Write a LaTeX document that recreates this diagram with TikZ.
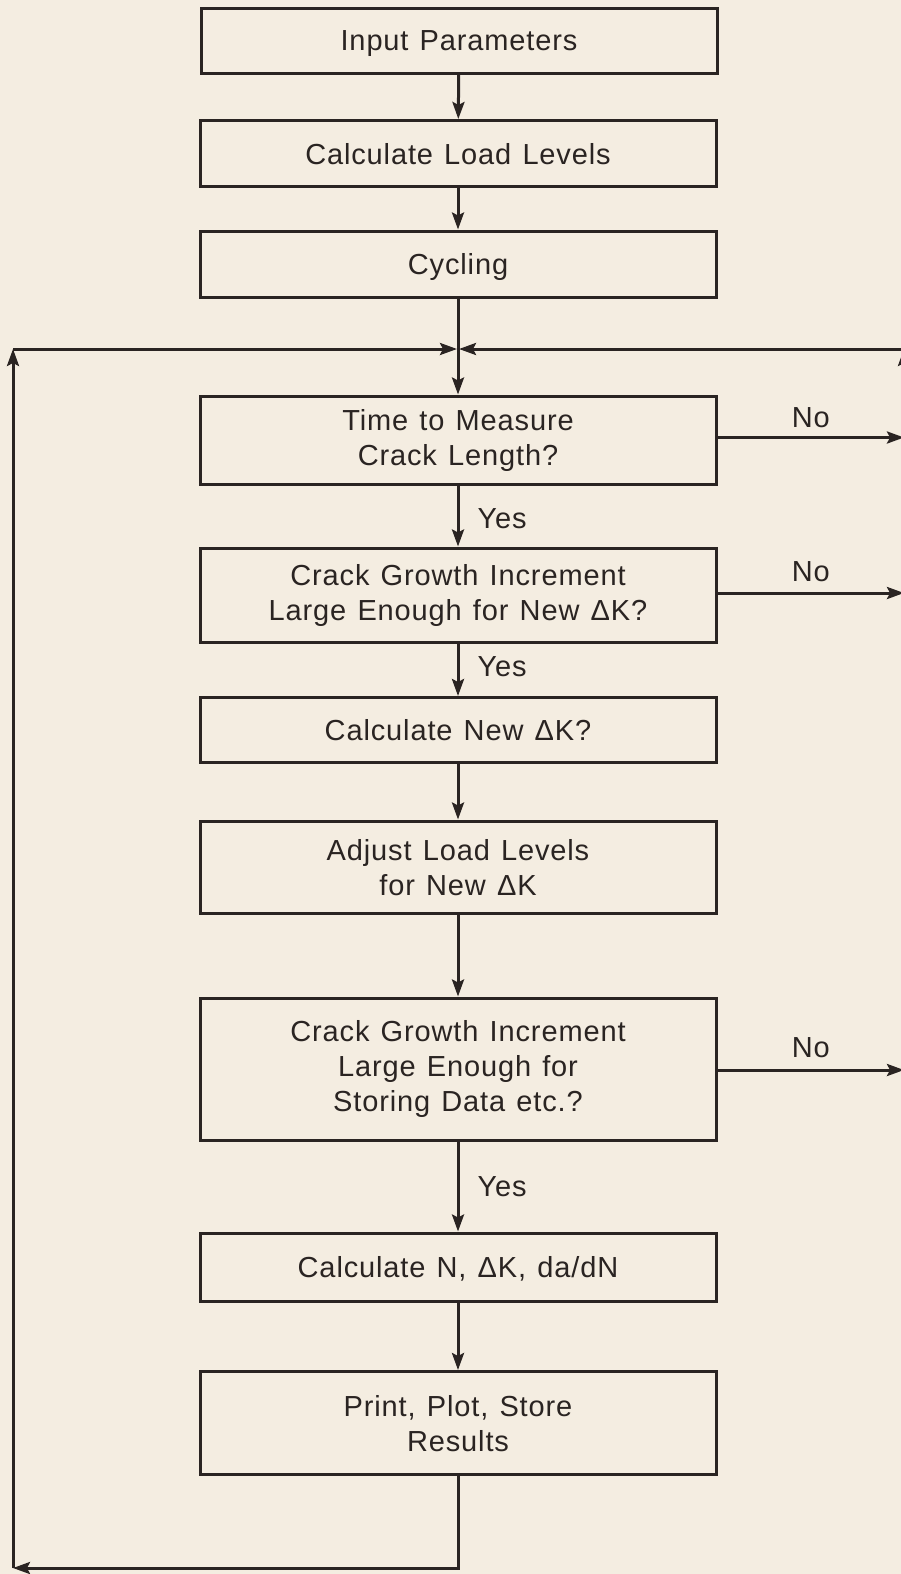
\documentclass[tikz,border=0pt]{standalone}
\usepackage{fontspec}
\setmainfont{Liberation Sans}[LetterSpace=3,WordSpace=1.25]
\usetikzlibrary{arrows.meta}
\definecolor{paper}{RGB}{244,237,225}
\definecolor{ink}{RGB}{42,36,34}
\begin{document}
\begin{tikzpicture}[x=1pt,y=-1pt,
  every node/.style={text=ink},
  stepbox/.style={draw=ink, line width=3pt, rectangle, minimum width=516pt,
    inner sep=0pt, align=center, font=\fontsize{29}{35}\selectfont},
  oneline/.style={text depth=0pt},
  lbl/.style={font=\fontsize{29}{35}\selectfont, inner sep=0pt},
  flow/.style={draw=ink, line width=3pt, -{Stealth[length=17pt,width=12pt,inset=3pt]}},
  plain/.style={draw=ink, line width=3pt}]
\fill[paper] (0,0) rectangle (901,1574);
\useasboundingbox (0,0) rectangle (901,1574);
\begin{scope}
\clip (0,0) rectangle (901,1574);

% process steps
\node[stepbox, oneline, minimum height=65pt] (inp) at (459,40.5) {Input Parameters};
\node[stepbox, oneline, minimum height=66pt] (load) at (458,153.5) {Calculate Load Levels};
\node[stepbox, oneline, minimum height=66pt] (cyc) at (458,264) {Cycling};
\node[stepbox, minimum height=88pt] (time) at (458,440) {Time to Measure\\Crack Length?};
\node[stepbox, minimum height=94pt] (inc) at (458,595) {Crack Growth Increment\\Large Enough for New ΔK?};
\node[stepbox, oneline, minimum height=65pt] (dk) at (458,730) {Calculate New ΔK?};
\node[stepbox, minimum height=92pt, text depth=-4pt] (adj) at (458,867) {Adjust Load Levels\\for New ΔK};
\node[stepbox, minimum height=142pt] (store) at (458,1069) {Crack Growth Increment\\Large Enough for\\Storing Data etc.?};
\node[stepbox, oneline, minimum height=68pt] (calc) at (458,1267) {Calculate N, ΔK, da/dN};
\node[stepbox, minimum height=103pt, text depth=-12pt] (prn) at (458,1423) {Print, Plot, Store\\Results};

% junction points of the loop
\coordinate (j) at (458,349);
\coordinate (tl) at (13,349);
\coordinate (bl) at (13,1568);
\coordinate (br) at (458,1568);
\coordinate (tr) at (904,349);
\coordinate (rb) at (904,1100);

% main sequence
\draw[flow] (inp) -- (load);
\draw[flow] (load) -- (cyc);
\draw[plain] (cyc) -- (j);
\draw[flow] (j) -- (time);
\draw[flow] (time) -- node[lbl, right=18pt, pos=0.55] {Yes} (inc);
\draw[flow] (inc) -- node[lbl, right=18pt, pos=0.45] {Yes} (dk);
\draw[flow] (dk) -- (adj);
\draw[flow] (adj) -- (store);
\draw[flow] (store) -- node[lbl, right=18pt, pos=0.5] {Yes} (calc);
\draw[flow] (calc) -- (prn);

% return loop on the left
\draw[flow] (prn) -- (br) -- (bl);
\draw[flow] (bl) -- (tl);
\draw[flow] (tl) -- ([xshift=-1pt]j);

% "No" branches to the right
\coordinate (n1) at (904,437.5);
\coordinate (n2) at (904,593);
\coordinate (n3) at (904,1070);
\draw[flow] (time.east |- n1) -- node[lbl, above=8pt, pos=0.5] {No} (n1);
\draw[flow] (inc.east |- n2) -- node[lbl, above=10pt, pos=0.5] {No} (n2);
\draw[flow] (store.east |- n3) -- node[lbl, above=11pt, pos=0.5] {No} (n3);

% return line on the right
\draw[flow] (rb) -- (tr);
\draw[flow] (tr) -- ([xshift=1pt]j);
\end{scope}
\end{tikzpicture}
\end{document}
